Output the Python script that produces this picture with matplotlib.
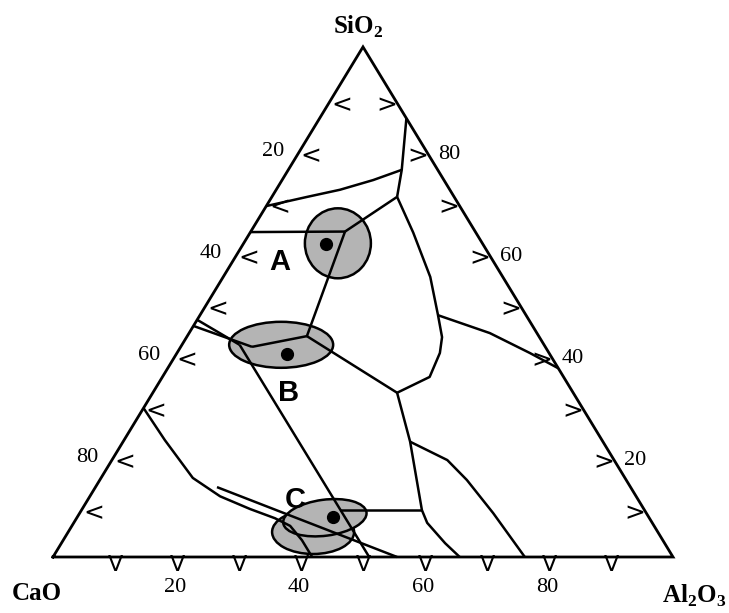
import numpy as np
import matplotlib
matplotlib.use("Agg")
import matplotlib.pyplot as plt
from matplotlib.patches import Ellipse

plt.rcParams['mathtext.fontset'] = 'custom'
plt.rcParams['mathtext.rm'] = 'Liberation Serif:bold'
plt.rcParams['mathtext.bf'] = 'Liberation Serif:bold'

# compositions in wt%: (CaO, Al2O3, SiO2)
line_top = [(0.0, 14.0, 86.0), (5.8, 18.3, 75.9), (9.2, 20.2, 70.6)]
line_upper_curve = [(5.8, 18.3, 75.9), (11.4, 14.7, 73.9), (17.7, 10.3, 72.0),
                    (23.7, 5.7, 70.6), (31.2, 0.0, 68.8)]
line_to_A = [(9.2, 20.2, 70.6), (21.0, 15.2, 63.8)]
line_A_left = [(36.3, 0.0, 63.7), (21.0, 15.2, 63.8)]
line_A_B = [(21.0, 15.2, 63.8), (37.4, 19.3, 43.3)]
line_right_valley = [(9.2, 20.2, 70.6), (10.1, 26.3, 63.6), (11.7, 33.4, 54.9),
                     (14.2, 38.4, 47.4), (15.7, 41.2, 43.1), (17.6, 42.4, 40.0),
                     (21.6, 43.1, 35.3), (28.4, 39.4, 32.2)]
line_to_right_edge = [(14.2, 38.4, 47.4), (7.6, 48.5, 43.9), (3.1, 56.9, 40.0),
                      (0.0, 63.0, 37.0)]
line_B_mid = [(37.4, 19.3, 43.3), (28.4, 39.4, 32.2)]
line_B_left = [(37.4, 19.3, 43.3), (47.3, 11.5, 41.2)]
line_double_upper = [(53.5, 0.0, 46.5), (49.1, 9.3, 41.6)]
line_double_lower = [(54.7, 0.0, 45.3), (47.3, 11.5, 41.2)]
line_B_C = [(49.1, 9.3, 41.6), (49.0, 51.0, 0.0)]
line_C_right = [(49.1, 41.7, 9.2), (35.9, 54.9, 9.2)]
line_lower_valley = [(28.4, 39.4, 32.2), (31.1, 46.3, 22.6), (35.9, 54.9, 9.2),
                     (36.3, 57.0, 6.7), (35.4, 61.9, 2.7), (34.4, 65.6, 0.0)]
line_lower_right = [(31.1, 46.3, 22.6), (26.9, 54.1, 19.0), (25.7, 59.2, 15.1),
                    (24.7, 66.7, 8.6), (23.9, 76.1, 0.0)]
line_lime_curve = [(70.8, 0.0, 29.2), (70.5, 6.6, 22.9), (69.7, 14.8, 15.5),
                   (67.1, 21.0, 11.9), (63.5, 27.1, 9.4), (60.4, 32.0, 7.6),
                   (58.7, 35.2, 6.1), (58.2, 38.5, 3.3), (58.2, 41.8, 0.0)]
line_lime_straight = [(66.7, 19.6, 13.7), (44.5, 55.5, 0.0)]

boundaries = [line_top, line_upper_curve, line_to_A, line_A_left, line_A_B,
              line_right_valley, line_to_right_edge, line_B_mid, line_B_left,
              line_double_upper, line_double_lower, line_B_C, line_C_right,
              line_lower_valley, line_lower_right, line_lime_curve,
              line_lime_straight]

region_names = ['A', 'B', 'C']
region_points = [(25.3, 13.3, 61.4), (42.4, 17.8, 39.8), (50.9, 41.2, 7.9)]
ellipse_centers = [(23.3, 15.2, 61.5), (42.4, 16.0, 41.6),
                   (55.6, 39.5, 4.9), (52.3, 40.0, 7.7)]

tick_values = [20, 40, 60, 80]
arrow_values = [10, 20, 30, 40, 50, 60, 70, 80, 90]

PX_X, PX_Y = 620.0, 589.0   # pixels per data unit


def to_xy(pts):
    pts = np.asarray(pts, dtype=float)
    a = pts[:, 1] / 100.0
    s = pts[:, 2] / 100.0
    return a + s / 2.0, s * np.sqrt(3) / 2.0


fig = plt.figure(figsize=(7.29, 6.13), dpi=100)
ax = fig.add_axes([0, 0, 1, 1])
ax.set_xlim(-53 / PX_X, 676 / PX_X)
ax.set_ylim(-56 / PX_Y, 557 / PX_Y)
ax.axis('off')

# triangle frame
tx, ty = to_xy([(100, 0, 0), (0, 100, 0), (0, 0, 100), (100, 0, 0)])
ax.plot(tx, ty, color='black', lw=2.0, solid_joinstyle='miter', zorder=2)

# field ellipses
ell_px = [(66, 70, 0), (104, 46, 0), (82, 44, 0), (84, 36, 8)]
for cen, (w, h, ang) in zip(ellipse_centers, ell_px):
    ex, ey = to_xy([cen])
    ax.add_patch(Ellipse((ex[0], ey[0]), w / PX_X, h / PX_Y, angle=ang,
                         facecolor='#b4b4b4', edgecolor='black', lw=1.8, zorder=1))

for b in boundaries:
    bx, by = to_xy(b)
    ax.plot(bx, by, color='black', lw=1.8, solid_capstyle='butt', zorder=2)

# points and letters
px, py = to_xy(region_points)
ax.plot(px, py, 'o', color='black', markersize=8.5, zorder=3)
letter_off = [(-46, -18), (2, -39), (-38, 17)]
for name, x, y, off in zip(region_names, px, py, letter_off):
    ax.annotate(name, (x, y), xytext=off, textcoords='offset pixels',
                ha='center', va='center', fontsize=21, fontweight='bold',
                family='Liberation Sans')

# direction marks along the edges
arrow_font = dict(fontsize=18, family='DejaVu Sans', color='black')
for v in arrow_values:
    lx, ly = to_xy([(100 - v, 0, v)])
    ax.annotate('<', (lx[0], ly[0]), xytext=(-1, -7), textcoords='offset pixels',
                ha='left', va='center', **arrow_font)
    rx, ry = to_xy([(0, 100 - v, v)])
    ax.annotate('>', (rx[0], ry[0]), xytext=(3, -7), textcoords='offset pixels',
                ha='right', va='center', **arrow_font)
    bx, by = to_xy([(100 - v, v, 0)])
    ax.annotate('V', (bx[0], by[0]), xytext=(0, 2), textcoords='offset pixels',
                ha='center', va='top', fontsize=16, family='DejaVu Sans')

# edge numbers
num_font = dict(fontsize=16, family='Liberation Serif')
for v in tick_values:
    lx, ly = to_xy([(v, 0, 100 - v)])
    ax.annotate(str(v), (lx[0], ly[0]), xytext=(-17, -3), textcoords='offset pixels',
                ha='right', va='center', **num_font)
    rx, ry = to_xy([(0, 100 - v, v)])
    ax.annotate(str(v), (rx[0], ry[0]), xytext=(13, -6), textcoords='offset pixels',
                ha='left', va='center', **num_font)
    bx, by = to_xy([(100 - v, v, 0)])
    ax.annotate(str(v), (bx[0], by[0]), xytext=(-2, -30), textcoords='offset pixels',
                ha='center', va='center', **num_font)

# corner labels
corner_font = dict(fontsize=18, family='Liberation Serif', fontweight='bold')
fig.text(358 / 729, 1 - 27 / 613, 'SiO$_2$', ha='center', va='center', **corner_font)
fig.text(37 / 729, 1 - 593 / 613, 'CaO', ha='center', va='center', **corner_font)
fig.text(662 / 729, 1 - 596 / 613, 'Al$_2$O$_3$', ha='left', va='center', **corner_font)

fig.savefig('out.png', dpi=100)
